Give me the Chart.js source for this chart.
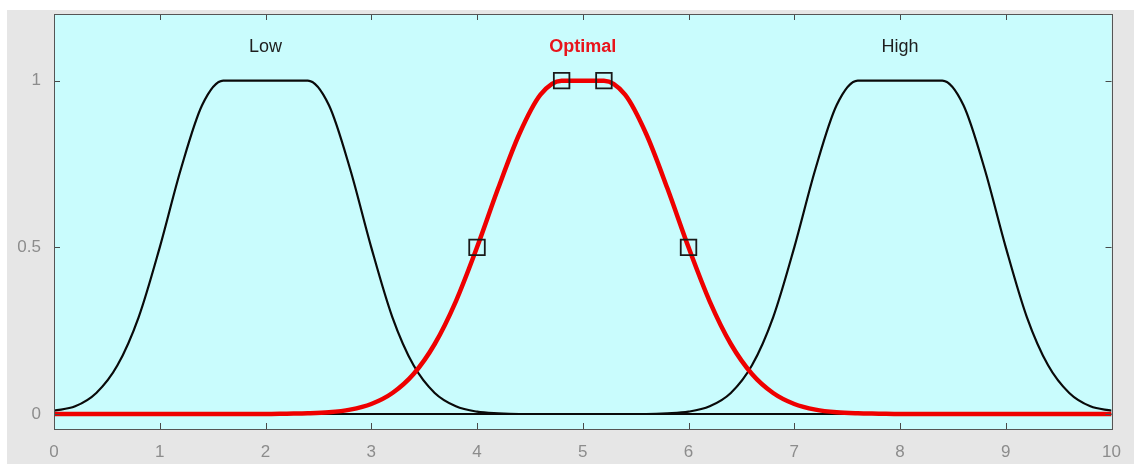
<!DOCTYPE html>
<html lang="en">
<head>
    <meta charset="UTF-8">
    <title>Membership Functions</title>
    <style>
        html, body {
            margin: 0;
            padding: 0;
            background: #ffffff;
        }
        #wrap {
            width: 1134px;
            height: 464px;
        }
    </style>
    <script src="https://cdn.jsdelivr.net/npm/chart.js"></script>
</head>
<body>
    <div id="wrap"><canvas id="mfChart" width="1134" height="464"></canvas></div>

    <script>
        // Input universe, sampled every 0.2
        const xValues = [0, 0.2, 0.4, 0.6, 0.8, 1, 1.2, 1.4, 1.6, 1.8, 2, 2.2, 2.4, 2.6, 2.8, 3, 3.2, 3.4, 3.6, 3.8,
            4, 4.2, 4.4, 4.6, 4.8, 5, 5.2, 5.4, 5.6, 5.8, 6, 6.2, 6.4, 6.6, 6.8, 7, 7.2, 7.4, 7.6, 7.8,
            8, 8.2, 8.4, 8.6, 8.8, 9, 9.2, 9.4, 9.6, 9.8, 10];

        // Membership degrees for each set
        const lowValues = [0.01, 0.023, 0.063, 0.146, 0.29, 0.5, 0.735, 0.926, 1, 1, 1, 1, 1, 0.926, 0.735, 0.5, 0.29, 0.146, 0.063, 0.023,
            0.007, 0.002, 0, 0, 0, 0, 0, 0, 0, 0, 0, 0, 0, 0, 0, 0, 0, 0, 0, 0,
            0, 0, 0, 0, 0, 0, 0, 0, 0, 0, 0];
        const optimalValues = [0, 0, 0, 0, 0, 0, 0, 0, 0, 0, 0, 0.001, 0.002, 0.005, 0.013, 0.03, 0.063, 0.12, 0.21, 0.338,
            0.5, 0.677, 0.84, 0.958, 1, 1, 1, 0.958, 0.84, 0.677, 0.5, 0.338, 0.21, 0.12, 0.063, 0.03, 0.013, 0.005, 0.002, 0.001,
            0, 0, 0, 0, 0, 0, 0, 0, 0, 0, 0];
        const highValues = [0, 0, 0, 0, 0, 0, 0, 0, 0, 0, 0, 0, 0, 0, 0, 0, 0, 0, 0, 0,
            0, 0, 0, 0, 0, 0, 0, 0, 0, 0.002, 0.007, 0.023, 0.063, 0.146, 0.29, 0.5, 0.735, 0.926, 1, 1,
            1, 1, 1, 0.926, 0.735, 0.5, 0.29, 0.146, 0.063, 0.023, 0.01];

        // Parameter points of the Optimal set
        const markerX = [4, 4.8, 5.2, 6];
        const markerY = [0.5, 1, 1, 0.5];

        // Set names written above each curve
        const setNames = ['Low', 'Optimal', 'High'];
        const setNameX = [2, 5, 8];
        const setNameY = 1.1;

        const yTickValues = [0, 0.5, 1];

        function toPoints(ys) {
            return xValues.map((x, i) => ({ x: x, y: ys[i] }));
        }

        // Grey figure background, cyan axes area
        const backdrop = {
            id: 'backdrop',
            beforeDraw(chart) {
                const ctx = chart.ctx;
                const a = chart.chartArea;
                ctx.save();
                ctx.fillStyle = '#ffffff';
                ctx.fillRect(0, 0, chart.width, chart.height);
                ctx.fillStyle = '#e6e6e6';
                ctx.fillRect(7, 10, chart.width - 7, chart.height - 10);
                ctx.fillStyle = '#c9fcfd';
                ctx.fillRect(a.left, a.top, a.right - a.left, a.bottom - a.top);
                ctx.restore();
            }
        };

        // Axes box with inward tick marks on all four sides
        const axesBox = {
            id: 'axesBox',
            afterDraw(chart) {
                const ctx = chart.ctx;
                const a = chart.chartArea;
                const xs = chart.scales.x;
                const ys = chart.scales.y;
                const len = 6;
                ctx.save();
                ctx.strokeStyle = '#4a4a4a';
                ctx.lineWidth = 1;
                ctx.beginPath();
                xs.ticks.forEach(t => {
                    const px = Math.round(xs.getPixelForValue(t.value)) + 0.5;
                    ctx.moveTo(px, a.top);
                    ctx.lineTo(px, a.top + len);
                    ctx.moveTo(px, a.bottom);
                    ctx.lineTo(px, a.bottom - len);
                });
                ys.ticks.forEach(t => {
                    const py = Math.round(ys.getPixelForValue(t.value)) + 0.5;
                    ctx.moveTo(a.left, py);
                    ctx.lineTo(a.left + len, py);
                    ctx.moveTo(a.right, py);
                    ctx.lineTo(a.right - len, py);
                });
                ctx.stroke();
                ctx.strokeStyle = '#555555';
                ctx.strokeRect(Math.round(a.left) + 0.5, Math.round(a.top) + 0.5,
                    Math.round(a.right - a.left), Math.round(a.bottom - a.top));
                ctx.restore();
            }
        };

        // Set names above the curves
        const setLabels = {
            id: 'setLabels',
            afterDatasetsDraw(chart) {
                const ctx = chart.ctx;
                const xs = chart.scales.x;
                const ys = chart.scales.y;
                ctx.save();
                ctx.textAlign = 'center';
                ctx.textBaseline = 'middle';
                setNames.forEach((name, i) => {
                    const optimal = name === 'Optimal';
                    ctx.font = (optimal ? 'bold ' : '') + '18px "Liberation Sans", Arial, sans-serif';
                    ctx.fillStyle = optimal ? '#e8141b' : '#1e1e1e';
                    ctx.fillText(name, xs.getPixelForValue(setNameX[i]), ys.getPixelForValue(setNameY));
                });
                ctx.restore();
            }
        };

        const curveStyle = {
            fill: false,
            pointRadius: 0,
            cubicInterpolationMode: 'monotone'
        };

        let ctx = document.getElementById('mfChart').getContext('2d');
        let mfChart = new Chart(ctx, {
            type: 'line',
            data: {
                datasets: [
                    {
                        label: 'Optimal points',
                        data: markerX.map((x, i) => ({ x: x, y: markerY[i] })),
                        showLine: false,
                        pointStyle: 'rect',
                        pointRadius: 11,
                        pointBorderWidth: 1.8,
                        pointBorderColor: '#1a1a1a',
                        pointBackgroundColor: 'rgba(0,0,0,0)',
                        borderColor: '#1a1a1a'
                    },
                    Object.assign({
                        label: 'Optimal',
                        data: toPoints(optimalValues),
                        borderColor: '#ee0000',
                        borderWidth: 4.5
                    }, curveStyle),
                    Object.assign({
                        label: 'Low',
                        data: toPoints(lowValues),
                        borderColor: '#0a0a0a',
                        borderWidth: 2.2
                    }, curveStyle),
                    Object.assign({
                        label: 'High',
                        data: toPoints(highValues),
                        borderColor: '#0a0a0a',
                        borderWidth: 2.2
                    }, curveStyle)
                ]
            },
            options: {
                responsive: false,
                animation: false,
                events: [],
                layout: {
                    autoPadding: false,
                    padding: { left: 0, top: 14, right: 22, bottom: 0 }
                },
                plugins: {
                    legend: { display: false },
                    tooltip: { enabled: false }
                },
                scales: {
                    x: {
                        type: 'linear',
                        min: 0,
                        max: 10,
                        grid: { display: false, drawTicks: false },
                        border: { display: false },
                        ticks: {
                            stepSize: 1,
                            padding: 13,
                            color: '#8c8c8c',
                            font: { family: '"Liberation Sans", Arial, sans-serif', size: 17 }
                        },
                        afterFit(scale) {
                            scale.height = 35;
                        }
                    },
                    y: {
                        type: 'linear',
                        min: -0.045,
                        max: 1.2,
                        grid: { display: false, drawTicks: false },
                        border: { display: false },
                        afterBuildTicks(scale) {
                            scale.ticks = yTickValues.map(v => ({ value: v }));
                        },
                        ticks: {
                            padding: 13,
                            color: '#8c8c8c',
                            font: { family: '"Liberation Sans", Arial, sans-serif', size: 17 },
                            callback: value => String(value)
                        },
                        afterFit(scale) {
                            // keep the label overhang from pushing the axes box down
                            scale.width = 54;
                            scale.paddingTop = 0;
                            scale.paddingBottom = 0;
                        }
                    }
                }
            },
            plugins: [backdrop, axesBox, setLabels]
        });
    </script>
</body>
</html>
